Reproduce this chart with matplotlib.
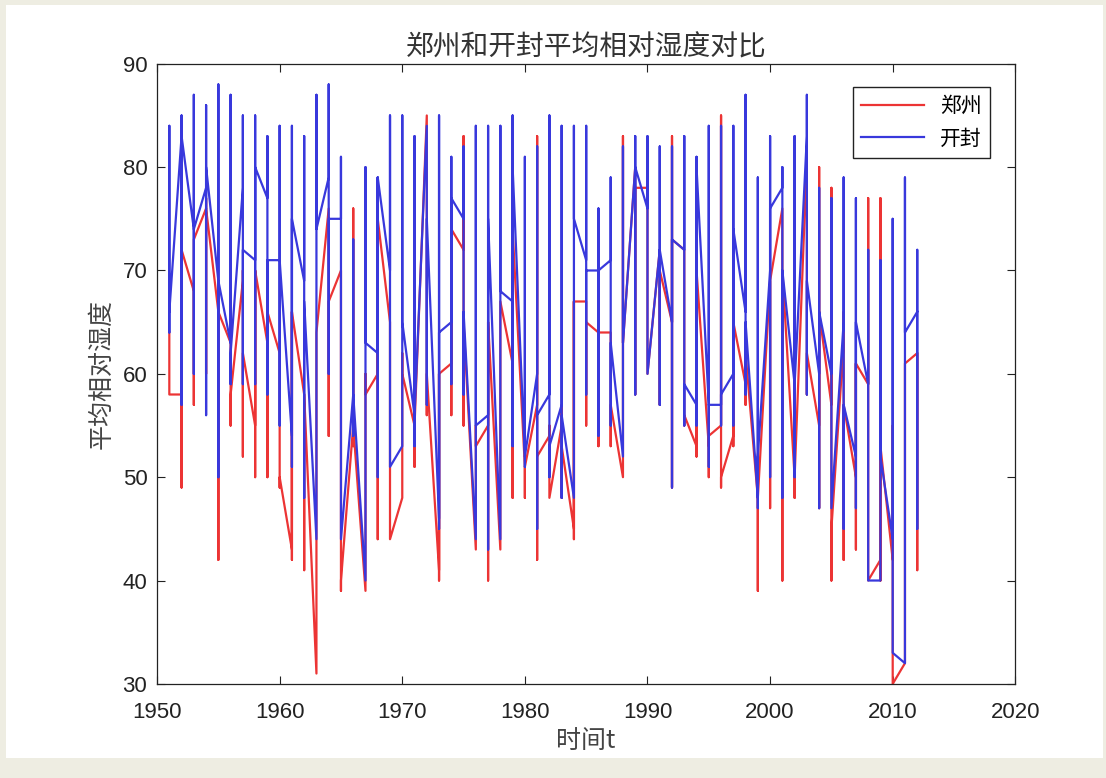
import matplotlib
matplotlib.use("Agg")
import matplotlib.pyplot as plt
from matplotlib.patches import Rectangle

plt.rcParams['font.family'] = ['Liberation Sans', 'Noto Sans CJK SC', 'DejaVu Sans']

years = list(range(1951, 2013))

# Zhengzhou (red): first value of the year, highest, lowest, last value
zz_first = [64, 58, 68, 76, 66, 63, 69, 55, 63, 62, 43, 58, 31, 76, 70, 55, 39, 60, 65, 48,
            55, 85, 41, 61, 72, 43, 55, 43, 61, 51, 57, 54, 55, 45, 67, 64, 64, 50, 80, 78,
            72, 65, 72, 53, 53, 55, 54, 59, 48, 69, 76, 50, 81, 55, 57, 63, 50, 59, 42, 42,
            32, 62]
zz_high = [64, 72, 73, 77, 69, 64, 70, 70, 66, 62, 66, 58, 64, 76, 70, 76, 60, 75, 65, 62,
           55, 85, 60, 74, 83, 55, 65, 67, 74, 51, 83, 55, 57, 67, 67, 65, 63, 83, 80, 78,
           72, 83, 72, 70, 55, 85, 65, 62, 52, 69, 76, 51, 81, 80, 78, 66, 61, 77, 77, 55,
           60, 62]
zz_low = [58, 49, 57, 60, 42, 55, 52, 50, 50, 49, 42, 41, 31, 54, 39, 53, 39, 44, 44, 48,
          51, 56, 40, 56, 55, 43, 40, 43, 48, 48, 42, 48, 48, 44, 55, 53, 53, 50, 58, 60,
          57, 49, 55, 52, 50, 49, 53, 57, 39, 47, 40, 48, 58, 47, 40, 42, 43, 40, 40, 30,
          32, 41]
zz_last = [58, 72, 73, 76, 66, 58, 62, 70, 66, 50, 66, 58, 64, 67, 40, 55, 58, 75, 44, 60,
           55, 60, 60, 74, 65, 53, 65, 67, 74, 51, 52, 48, 53, 67, 65, 64, 57, 63, 78, 60,
           70, 73, 56, 70, 54, 50, 65, 62, 48, 69, 70, 50, 62, 66, 45, 57, 61, 40, 53, 30,
           61, 62]

# Kaifeng (blue): first value of the year, highest, lowest, last value
kf_first = [66, 83, 74, 78, 69, 63, 78, 71, 77, 71, 54, 69, 44, 79, 75, 58, 40, 62, 70, 53,
            56, 84, 46, 65, 75, 44, 56, 44, 67, 52, 60, 58, 57, 48, 71, 70, 71, 52, 80, 76,
            72, 65, 72, 57, 57, 57, 60, 66, 48, 70, 78, 59, 83, 60, 60, 65, 52, 59, 40, 44,
            32, 66]
kf_high = [84, 85, 87, 86, 88, 87, 85, 85, 83, 84, 84, 83, 87, 88, 81, 73, 80, 79, 85, 85,
           83, 84, 85, 81, 82, 84, 84, 84, 85, 81, 82, 85, 84, 84, 84, 76, 79, 82, 83, 83,
           82, 82, 83, 81, 84, 84, 84, 87, 79, 83, 80, 83, 87, 78, 77, 79, 77, 72, 71, 75,
           79, 72]
kf_low = [64, 57, 60, 56, 50, 59, 59, 59, 58, 55, 51, 48, 44, 60, 44, 54, 40, 50, 51, 53,
          53, 57, 45, 59, 58, 44, 43, 44, 53, 51, 45, 50, 48, 48, 58, 54, 55, 52, 58, 60,
          57, 49, 55, 55, 51, 55, 55, 58, 47, 50, 48, 50, 58, 47, 47, 45, 47, 40, 40, 33,
          32, 45]
kf_last = [66, 83, 74, 80, 69, 62, 72, 80, 71, 71, 75, 67, 74, 75, 44, 58, 63, 79, 51, 65,
           56, 75, 64, 77, 66, 55, 75, 68, 80, 52, 56, 53, 56, 75, 70, 70, 63, 63, 80, 60,
           72, 73, 59, 80, 57, 58, 74, 65, 52, 76, 70, 59, 69, 66, 47, 57, 65, 40, 52, 33,
           64, 66]


def monthly_path(first, high, low, last):
    xs, ys = [], []
    for i, yr in enumerate(years):
        xs += [yr, yr, yr, yr]
        ys += [first[i], high[i], low[i], last[i]]
    return xs, ys


fig = plt.figure(figsize=(11.06, 7.78), dpi=100, facecolor='#eeede2')
fig.patches.append(Rectangle((6 / 1106, 20 / 778), 1097 / 1106, 753 / 778,
                             transform=fig.transFigure, facecolor='white',
                             edgecolor='none', zorder=-5))

ax = fig.add_axes([0.142, 0.121, 0.776, 0.797])

x, y = monthly_path(zz_first, zz_high, zz_low, zz_last)
ax.plot(x, y, color='#ec3434', lw=1.6, label='郑州')
x, y = monthly_path(kf_first, kf_high, kf_low, kf_last)
ax.plot(x, y, color='#3838dc', lw=1.6, label='开封')

ax.set_xlim(1950, 2020)
ax.set_ylim(30, 90)
ax.set_xticks(range(1950, 2021, 10))
ax.set_yticks(range(30, 91, 10))
ax.tick_params(direction='in', top=True, right=True, length=6, labelsize=16,
               colors='#222222')
ax.tick_params(axis='x', pad=13)
ax.tick_params(axis='y', pad=7)
for s in ax.spines.values():
    s.set_color('#222222')
    s.set_linewidth(0.9)

ax.set_title('郑州和开封平均相对湿度对比', fontsize=20, color='#333333',
             family=['Noto Sans CJK SC'], pad=6)
ax.set_xlabel('时间t', fontsize=18, color='#444444', family=['Noto Sans CJK SC', 'DejaVu Sans'],
              labelpad=4)
ax.set_ylabel('平均相对湿度', fontsize=18, color='#444444', family=['Noto Sans CJK SC'],
              labelpad=6)

leg = ax.legend(loc='upper right', bbox_to_anchor=(0.971, 0.963), borderaxespad=0,
                fancybox=False, edgecolor='#222222', framealpha=1, handlelength=3.0,
                prop={'family': 'Noto Sans CJK SC', 'size': 15})
leg.get_frame().set_linewidth(1.0)

fig.savefig('out.png', dpi=100, facecolor=fig.get_facecolor())
